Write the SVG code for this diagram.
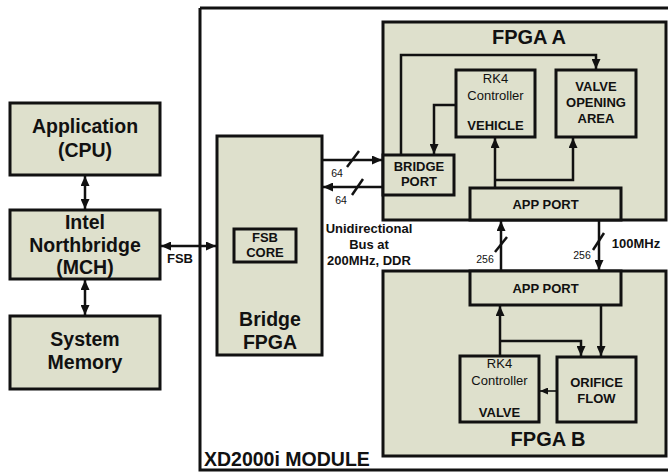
<svg xmlns="http://www.w3.org/2000/svg" width="668" height="476" viewBox="0 0 668 476">
  <style>
    .box { fill: #dee0cc; stroke: #111; stroke-width: 3; }
    .frame { fill: none; stroke: #111; stroke-width: 3; }
    .ln { fill: none; stroke: #111; stroke-width: 2.5; }
    .thin { fill: none; stroke: #111; stroke-width: 1.6; }
    text { font-family: "Liberation Sans", Arial, Helvetica, sans-serif; fill: #111; text-anchor: middle; }
    .big { font-size: 19.5px; font-weight: bold; }
    .mid { font-size: 13px; font-weight: bold; }
    .reg { font-size: 13px; }
    .sm { font-size: 10.5px; }
  </style>
  <defs>
    <marker id="ah" viewBox="0 0 10 9" refX="10" refY="4.5" markerWidth="10" markerHeight="9" markerUnits="userSpaceOnUse" orient="auto-start-reverse">
      <path d="M0,0 L10,4.5 L0,9 z" fill="#111"/>
    </marker>
    <marker id="ahs" viewBox="0 0 8 7" refX="8" refY="3.5" markerWidth="8" markerHeight="7" markerUnits="userSpaceOnUse" orient="auto">
      <path d="M0,0 L8,3.5 L0,7 z" fill="#111"/>
    </marker>
  </defs>

  <!-- module outline -->
  <g id="module">
    <path class="frame" d="M200,8 H670 M200,8 V470 H670"/>
    <text class="big" x="204" y="466" style="text-anchor:start">XD2000i MODULE</text>
  </g>

  <g id="application">
    <rect class="box" x="10" y="103" width="150" height="72"/>
    <text class="big" x="85" y="133">Application</text>
    <text class="big" x="85" y="157">(CPU)</text>
  </g>

  <g id="northbridge">
    <rect class="box" x="10" y="210" width="150" height="69"/>
    <text class="big" x="85" y="229">Intel</text>
    <text class="big" x="85" y="252">Northbridge</text>
    <text class="big" x="85" y="274">(MCH)</text>
  </g>

  <g id="memory">
    <rect class="box" x="10" y="316" width="150" height="73"/>
    <text class="big" x="85" y="346">System</text>
    <text class="big" x="85" y="369">Memory</text>
  </g>

  <g id="bridge-fpga">
    <rect class="box" x="217" y="136" width="105" height="219"/>
    <text class="big" x="270" y="326">Bridge</text>
    <text class="big" x="270" y="349">FPGA</text>
  </g>

  <g id="fsb-core">
    <rect class="box" x="234" y="229" width="62" height="33"/>
    <text class="mid" x="265" y="242">FSB</text>
    <text class="mid" x="265" y="257">CORE</text>
  </g>

  <g id="fpga-a">
    <rect class="box" x="383" y="22" width="283" height="198"/>
    <text class="big" x="529" y="44" style="font-size:20px">FPGA A</text>
  </g>

  <g id="bridge-port">
    <rect class="box" x="383" y="155" width="71" height="40"/>
    <text class="mid" x="419" y="171">BRIDGE</text>
    <text class="mid" x="419" y="186">PORT</text>
  </g>

  <g id="rk4-vehicle">
    <rect class="box" x="456" y="70" width="79" height="67"/>
    <text class="reg" x="495.5" y="83">RK4</text>
    <text class="reg" x="495.5" y="100">Controller</text>
    <text class="mid" x="495.5" y="130">VEHICLE</text>
  </g>

  <g id="valve-area">
    <rect class="box" x="556" y="70" width="80" height="67"/>
    <text class="mid" x="596" y="91">VALVE</text>
    <text class="mid" x="596" y="107">OPENING</text>
    <text class="mid" x="596" y="123">AREA</text>
  </g>

  <g id="app-port-a">
    <rect class="box" x="470" y="188" width="151" height="32"/>
    <text class="mid" x="545.5" y="209">APP PORT</text>
  </g>

  <g id="fpga-b">
    <rect class="box" x="383" y="271" width="283" height="185"/>
    <text class="big" x="548" y="446" style="font-size:20px">FPGA B</text>
  </g>

  <g id="app-port-b">
    <rect class="box" x="470" y="271" width="151" height="34"/>
    <text class="mid" x="545.5" y="293">APP PORT</text>
  </g>

  <g id="rk4-valve">
    <rect class="box" x="460" y="356" width="79" height="66"/>
    <text class="reg" x="499.5" y="368">RK4</text>
    <text class="reg" x="499.5" y="385">Controller</text>
    <text class="mid" x="499.5" y="417">VALVE</text>
  </g>

  <g id="orifice-flow">
    <rect class="box" x="557" y="357" width="79" height="65"/>
    <text class="mid" x="596.5" y="387">ORIFICE</text>
    <text class="mid" x="596.5" y="403">FLOW</text>
  </g>

  <g id="connectors">
    <!-- host side -->
    <line class="ln" x1="85" y1="176" x2="85" y2="209" marker-start="url(#ah)" marker-end="url(#ah)"/>
    <line class="ln" x1="85" y1="280" x2="85" y2="315" marker-start="url(#ah)" marker-end="url(#ah)"/>
    <line class="ln" x1="161" y1="246" x2="216" y2="246" marker-start="url(#ah)" marker-end="url(#ah)"/>
    <text class="mid" x="180" y="263">FSB</text>

    <!-- bridge FPGA to FPGA A, 64-bit each way -->
    <line class="ln" x1="323" y1="160" x2="382" y2="160" marker-end="url(#ah)"/>
    <line class="ln" x1="382" y1="187" x2="323" y2="187" marker-end="url(#ah)"/>
    <line class="ln" x1="347" y1="167" x2="359" y2="151"/>
    <line class="ln" x1="352" y1="195" x2="363" y2="179"/>
    <text class="sm" x="337" y="177">64</text>
    <text class="sm" x="341" y="204">64</text>
    <text class="mid" x="369" y="233">Unidirectional</text>
    <text class="mid" x="369" y="249">Bus at</text>
    <text class="mid" x="369" y="265">200MHz, DDR</text>

    <!-- inside FPGA A -->
    <polyline class="ln" points="401,155 401,55 596,55 596,69" marker-end="url(#ah)"/>
    <polyline class="ln" points="456,105 434,105 434,154" marker-end="url(#ah)"/>
    <line class="ln" x1="495" y1="188" x2="495" y2="138" marker-end="url(#ah)"/>
    <polyline class="ln" points="495,180 573,180 573,138" marker-end="url(#ah)"/>

    <!-- FPGA A <-> FPGA B, 256-bit at 100MHz -->
    <line class="ln" x1="501" y1="271" x2="501" y2="221" marker-end="url(#ah)"/>
    <line class="ln" x1="599" y1="220" x2="599" y2="270" marker-end="url(#ah)"/>
    <line class="ln" x1="495" y1="252" x2="507" y2="237"/>
    <line class="ln" x1="593" y1="250" x2="604" y2="233"/>
    <text class="sm" x="485" y="263">256</text>
    <text class="sm" x="582" y="259">256</text>
    <text class="mid" x="636" y="248">100MHz</text>

    <!-- inside FPGA B -->
    <line class="ln" x1="500" y1="356" x2="500" y2="306" marker-end="url(#ah)"/>
    <polyline class="ln" points="500,341 581,341 581,356" marker-end="url(#ah)"/>
    <line class="ln" x1="601" y1="305" x2="601" y2="356" marker-end="url(#ah)"/>
    <line class="thin" x1="557" y1="391" x2="540" y2="391" marker-end="url(#ahs)"/>
  </g>
</svg>
